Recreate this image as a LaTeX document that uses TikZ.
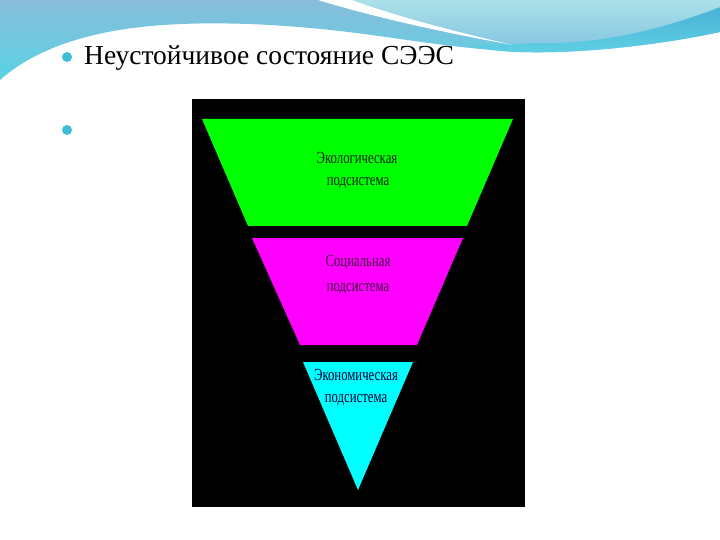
\documentclass[tikz,border=0pt]{standalone}
\usepackage{fontspec}
\setmainfont{Liberation Serif}
\newfontfamily\titlefont{Liberation Serif}
\definecolor{bannerTop}{HTML}{88BDDA}
\definecolor{bannerLow}{HTML}{58D2E4}
\definecolor{lightCyan}{HTML}{AAE0E8}
\definecolor{lightLow}{HTML}{88C8E2}
\definecolor{bandBlue}{HTML}{48B2D6}
\definecolor{bandLow}{HTML}{60D0E4}
\definecolor{bulletCyan}{HTML}{3CBDD8}
\definecolor{ecoGreen}{HTML}{00FF00}
\definecolor{socMag}{HTML}{FF00FF}
\definecolor{econCyan}{HTML}{00FFFF}
\begin{document}
\begin{tikzpicture}[x=1pt,y=-1pt,
  lbl/.style={font=\fontsize{17}{17}\selectfont, inner sep=0pt, anchor=center, xscale=0.75},
  bulletdot/.style={circle, fill=bulletCyan, inner sep=0pt, minimum size=10pt}]
\useasboundingbox (0,0) rectangle (720,540);
\fill[white] (0,0) rectangle (720,540);
% banner base
\shade[top color=bannerTop, bottom color=bannerLow]
  (0,0) -- (720,0) -- (720,32) .. controls (660,45) and (580,54) .. (520,52)
  .. controls (450,48) and (400,38) .. (340,31)
  .. controls (260,22) and (160,18) .. (90,36)
  .. controls (50,46) and (20,62) .. (0,80) -- cycle;
% bottom-right band
\shade[top color=bandBlue, bottom color=bandLow]
  (720,7) .. controls (660,30) and (600,44) .. (540,43)
  .. controls (520,43) and (500,45) .. (470,46)
  .. controls (490,50) and (505,52) .. (520,52)
  .. controls (580,54) and (660,45) .. (720,32) -- cycle;
% light region on the right
\shade[top color=lightCyan, bottom color=lightLow]
  (352,0) -- (720,0) -- (720,7) .. controls (660,30) and (600,44) .. (540,43)
  .. controls (528,43) and (520,44) .. (513,44)
  .. controls (440,28) and (390,14) .. (352,0) -- cycle;
% white streak
\fill[white] (318,0) .. controls (370,16) and (440,32) .. (513,45)
  .. controls (440,28) and (390,14) .. (352,0) -- cycle;
% bullets and title
\node[bulletdot] (b1) at (67,57) {};
\node[bulletdot] (b2) at (67,130) {};
\node[font=\titlefont\fontsize{27.5}{27.5}\selectfont, anchor=base west, inner sep=0pt] (title) at (84,65) {Неустойчивое состояние СЭЭС};
% diagram
\fill[black] (192,99) rectangle (525,507);
\fill[ecoGreen] (202,119) -- (513,119) -- (467,226) -- (248,226) -- cycle;
\fill[socMag] (252,238) -- (463,238) -- (417,345) -- (300,345) -- cycle;
\fill[econCyan] (303,362) -- (413,362) -- (358,490) -- cycle;
\node[lbl, text=black!85!green] (e1) at (357,158) {Экологическая};
\node[lbl, text=black!85!green] (e2) at (358,183) {подсистема};
\node[lbl, text=black!75!socMag] (s1) at (358,263) {Социальная};
\node[lbl, text=black!75!socMag] (s2) at (358,289) {подсистема};
\node[lbl, text=black!80!blue] (c1) at (356,375) {Экономическая};
\node[lbl, text=black!80!blue] (c2) at (356,400) {подсистема};
\end{tikzpicture}
\end{document}
